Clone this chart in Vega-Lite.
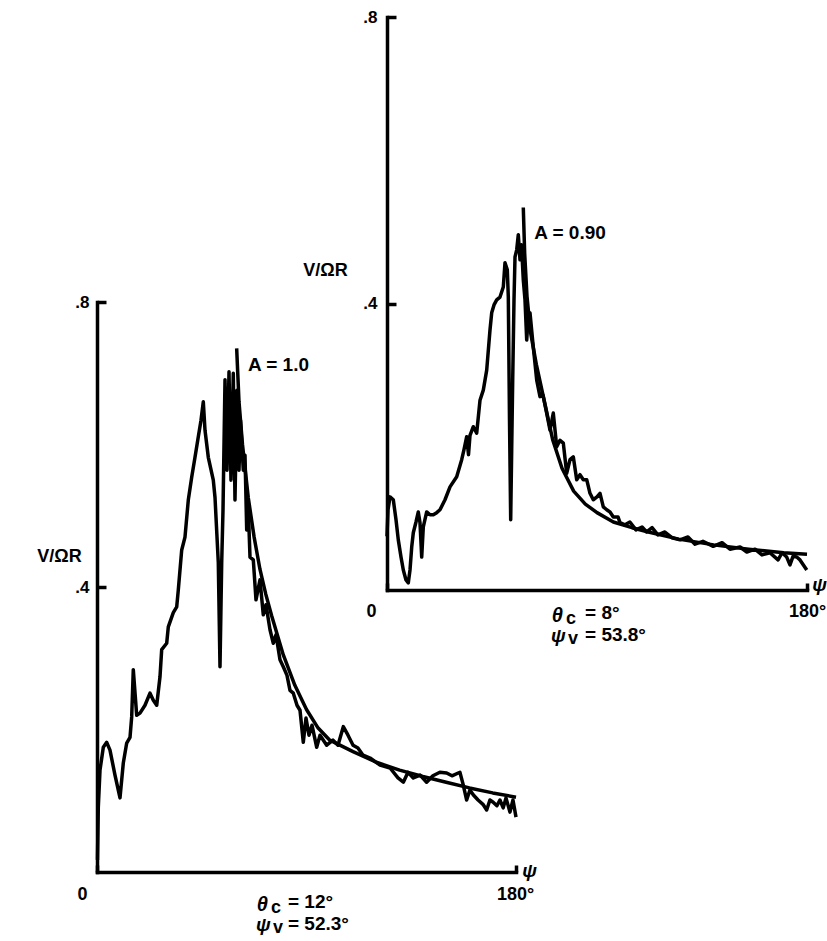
{
  "$schema": "https://vega.github.io/schema/vega-lite/v6.json",
  "width": 827,
  "height": 941,
  "autosize": {"type": "none"},
  "padding": 0,
  "background": "white",
  "config": {
    "view": {"stroke": null},
    "axis": {
      "grid": false,
      "domainColor": "black",
      "domainWidth": 3.5,
      "domainCap": "square",
      "tickColor": "black",
      "tickWidth": 3.5,
      "labelColor": "black",
      "titleColor": "black",
      "labelFont": "Liberation Sans",
      "titleFont": "Liberation Sans",
      "labelFontWeight": "bold",
      "titleFontWeight": "bold",
      "labelFlush": false,
      "labelOverlap": false,
      "labelBound": false
    },
    "text": {"font": "Liberation Sans", "fontWeight": "bold", "fill": "black"}
  },
  "datasets": {
    "left_measured": [
      {"psi":0.2,"v":0.017},{"psi":0.56,"v":0.091},{"psi":1.29,"v":0.143},{"psi":2.71,"v":0.175},{"psi":4.17,"v":0.182},{"psi":5.58,"v":0.171},{"psi":7.73,"v":0.136},{"psi":9.88,"v":0.104},{"psi":11.3,"v":0.153},{"psi":12.76,"v":0.181},{"psi":14.18,"v":0.189},{"psi":14.91,"v":0.218},{"psi":15.59,"v":0.284},{"psi":17.05,"v":0.22},{"psi":18.47,"v":0.223},{"psi":20.62,"v":0.234},{"psi":22.77,"v":0.251},{"psi":24.19,"v":0.241},{"psi":25.65,"v":0.234},{"psi":27.06,"v":0.274},{"psi":27.79,"v":0.312},{"psi":29.94,"v":0.321},{"psi":30.63,"v":0.344},{"psi":32.78,"v":0.364},{"psi":34.24,"v":0.372},{"psi":34.93,"v":0.396},{"psi":36.39,"v":0.452},{"psi":37.8,"v":0.47},{"psi":39.22,"v":0.522},{"psi":40.68,"v":0.554},{"psi":42.1,"v":0.582},{"psi":43.52,"v":0.611},{"psi":44.68,"v":0.634},{"psi":45.67,"v":0.66},{"psi":46.4,"v":0.62},{"psi":47.81,"v":0.582},{"psi":49.96,"v":0.55},{"psi":50.69,"v":0.526},{"psi":52.11,"v":0.434},{"psi":52.84,"v":0.288},{"psi":53.57,"v":0.434},{"psi":54.13,"v":0.508},{"psi":54.99,"v":0.691},{"psi":55.85,"v":0.564},{"psi":56.71,"v":0.702},{"psi":57.56,"v":0.55},{"psi":58.55,"v":0.7},{"psi":59.28,"v":0.522},{"psi":60.14,"v":0.676},{"psi":61.0,"v":0.564},{"psi":61.65,"v":0.634},{"psi":62.85,"v":0.564},{"psi":63.58,"v":0.585},{"psi":64.31,"v":0.48},{"psi":64.87,"v":0.522},{"psi":65.73,"v":0.442},{"psi":67.15,"v":0.438},{"psi":68.3,"v":0.382},{"psi":70.02,"v":0.41},{"psi":71.44,"v":0.361},{"psi":72.6,"v":0.375},{"psi":74.32,"v":0.34},{"psi":75.74,"v":0.321},{"psi":76.9,"v":0.333},{"psi":78.61,"v":0.298},{"psi":80.03,"v":0.288},{"psi":81.62,"v":0.276},{"psi":82.91,"v":0.255},{"psi":84.33,"v":0.251},{"psi":85.92,"v":0.234},{"psi":87.21,"v":0.227},{"psi":88.62,"v":0.182},{"psi":89.78,"v":0.216},{"psi":91.07,"v":0.192},{"psi":92.36,"v":0.206},{"psi":94.38,"v":0.175},{"psi":95.8,"v":0.192},{"psi":98.68,"v":0.178},{"psi":101.38,"v":0.185},{"psi":103.53,"v":0.178},{"psi":105.81,"v":0.204},{"psi":107.83,"v":0.192},{"psi":110.0,"v":0.178},{"psi":112.1,"v":0.174},{"psi":114.3,"v":0.164},{"psi":117.3,"v":0.16},{"psi":121.6,"v":0.15},{"psi":125.9,"v":0.146},{"psi":129.3,"v":0.132},{"psi":131.6,"v":0.126},{"psi":133.6,"v":0.14},{"psi":135.9,"v":0.132},{"psi":138.8,"v":0.136},{"psi":141.6,"v":0.126},{"psi":144.3,"v":0.135},{"psi":147.3,"v":0.14},{"psi":150.2,"v":0.139},{"psi":152.5,"v":0.135},{"psi":155.9,"v":0.14},{"psi":157.2,"v":0.124},{"psi":158.8,"v":0.101},{"psi":160.2,"v":0.115},{"psi":161.7,"v":0.108},{"psi":163.7,"v":0.101},{"psi":165.8,"v":0.095},{"psi":167.4,"v":0.087},{"psi":168.8,"v":0.101},{"psi":170.2,"v":0.098},{"psi":171.8,"v":0.093},{"psi":173.1,"v":0.101},{"psi":174.5,"v":0.09},{"psi":175.7,"v":0.104},{"psi":177.4,"v":0.084},{"psi":178.7,"v":0.101},{"psi":180,"v":0.077}
    ],
    "left_theory": [
      {"psi":60.0,"v":0.735},{"psi":61.0,"v":0.66},{"psi":62.5,"v":0.6},{"psi":65,"v":0.525},{"psi":67.5,"v":0.47},{"psi":70,"v":0.425},{"psi":72.5,"v":0.39},{"psi":75,"v":0.36},{"psi":80,"v":0.305},{"psi":85,"v":0.262},{"psi":90,"v":0.228},{"psi":95,"v":0.202},{"psi":100,"v":0.185},{"psi":110,"v":0.169},{"psi":120,"v":0.154},{"psi":130,"v":0.143},{"psi":140,"v":0.134},{"psi":150,"v":0.126},{"psi":160,"v":0.118},{"psi":170,"v":0.111},{"psi":180,"v":0.105}
    ],
    "right_measured": [
      {"psi":0,"v":0.075},{"psi":0.43,"v":0.112},{"psi":1.29,"v":0.13},{"psi":2.7,"v":0.126},{"psi":3.86,"v":0.098},{"psi":4.84,"v":0.07},{"psi":6.0,"v":0.046},{"psi":6.99,"v":0.028},{"psi":8.14,"v":0.014},{"psi":9.13,"v":0.01},{"psi":9.86,"v":0.028},{"psi":10.59,"v":0.06},{"psi":11.27,"v":0.08},{"psi":12.43,"v":0.095},{"psi":13.41,"v":0.109},{"psi":14.14,"v":0.094},{"psi":14.87,"v":0.046},{"psi":15.56,"v":0.088},{"psi":17.01,"v":0.109},{"psi":18.43,"v":0.105},{"psi":19.84,"v":0.105},{"psi":21.3,"v":0.108},{"psi":22.71,"v":0.112},{"psi":24.86,"v":0.126},{"psi":27.0,"v":0.144},{"psi":29.87,"v":0.158},{"psi":32.01,"v":0.182},{"psi":33.0,"v":0.196},{"psi":34.16,"v":0.214},{"psi":34.93,"v":0.189},{"psi":35.57,"v":0.216},{"psi":36.99,"v":0.228},{"psi":38.44,"v":0.219},{"psi":39.86,"v":0.265},{"psi":41.27,"v":0.279},{"psi":42.73,"v":0.307},{"psi":44.14,"v":0.363},{"psi":44.87,"v":0.387},{"psi":45.86,"v":0.398},{"psi":47.01,"v":0.405},{"psi":48.43,"v":0.409},{"psi":49.84,"v":0.423},{"psi":50.57,"v":0.457},{"psi":51.56,"v":0.447},{"psi":51.99,"v":0.409},{"psi":52.5,"v":0.237},{"psi":53.01,"v":0.098},{"psi":53.44,"v":0.196},{"psi":53.87,"v":0.293},{"psi":54.43,"v":0.405},{"psi":54.86,"v":0.465},{"psi":55.59,"v":0.475},{"psi":56.27,"v":0.496},{"psi":57.0,"v":0.461},{"psi":57.64,"v":0.482},{"psi":58.41,"v":0.433},{"psi":59.14,"v":0.405},{"psi":59.87,"v":0.349},{"psi":60.43,"v":0.377},{"psi":61.29,"v":0.387},{"psi":62.7,"v":0.339},{"psi":64.16,"v":0.293},{"psi":65.57,"v":0.27},{"psi":66.86,"v":0.272},{"psi":68.44,"v":0.247},{"psi":69.86,"v":0.223},{"psi":71.27,"v":0.247},{"psi":72.73,"v":0.2},{"psi":74.14,"v":0.209},{"psi":75.56,"v":0.205},{"psi":77.01,"v":0.163},{"psi":78.43,"v":0.182},{"psi":79.84,"v":0.186},{"psi":81.3,"v":0.154},{"psi":82.71,"v":0.161},{"psi":84.13,"v":0.154},{"psi":85.59,"v":0.154},{"psi":87.0,"v":0.135},{"psi":88.41,"v":0.126},{"psi":90.0,"v":0.13},{"psi":91.29,"v":0.135},{"psi":92.7,"v":0.116},{"psi":94.16,"v":0.112},{"psi":95.57,"v":0.109},{"psi":96.99,"v":0.102},{"psi":99.0,"v":0.102},{"psi":99.86,"v":0.094},{"psi":102.0,"v":0.091},{"psi":104.1,"v":0.095},{"psi":106.7,"v":0.084},{"psi":109.3,"v":0.088},{"psi":111.3,"v":0.081},{"psi":113.6,"v":0.087},{"psi":116.1,"v":0.077},{"psi":119.1,"v":0.081},{"psi":122.1,"v":0.073},{"psi":125.6,"v":0.07},{"psi":129.0,"v":0.074},{"psi":132.0,"v":0.064},{"psi":135.4,"v":0.068},{"psi":139.8,"v":0.061},{"psi":143.6,"v":0.066},{"psi":147.0,"v":0.057},{"psi":151.3,"v":0.06},{"psi":154.2,"v":0.053},{"psi":157.7,"v":0.057},{"psi":160.7,"v":0.049},{"psi":164.1,"v":0.052},{"psi":167.6,"v":0.042},{"psi":169.3,"v":0.052},{"psi":171.3,"v":0.046},{"psi":172.7,"v":0.035},{"psi":174.0,"v":0.047},{"psi":175.6,"v":0.046},{"psi":177.0,"v":0.042},{"psi":179.9,"v":0.028}
    ],
    "right_theory": [
      {"psi":58.41,"v":0.534},{"psi":59,"v":0.47},{"psi":60,"v":0.41},{"psi":61.5,"v":0.36},{"psi":64,"v":0.315},{"psi":67,"v":0.27},{"psi":71,"v":0.21},{"psi":75,"v":0.17},{"psi":80,"v":0.138},{"psi":85,"v":0.12},{"psi":90,"v":0.108},{"psi":97,"v":0.095},{"psi":105,"v":0.087},{"psi":112,"v":0.081},{"psi":125,"v":0.071},{"psi":140,"v":0.063},{"psi":155,"v":0.057},{"psi":170,"v":0.052},{"psi":180,"v":0.05}
    ],
    "one": [{}]
  },
  "layer": [
    {
      "layer": [
        {
          "data": {"name": "left_measured"},
          "mark": {"type": "line", "stroke": "black", "strokeWidth": 3.5, "strokeJoin": "round"},
          "encoding": {
            "x": {
              "field": "psi", "type": "quantitative",
              "scale": {"domain": [0, 180], "range": [97, 516], "nice": false, "zero": false},
              "axis": {
                "orient": "bottom", "offset": -69, "values": [0, 180],
                "labelExpr": "datum.value == 180 ? '180°' : '0'",
                "tickSize": -7, "labelPadding": 20, "labelFontSize": 18,
                "labelOffset": {"condition": {"test": "datum.value == 0", "value": -15}, "value": -1},
                "title": "ψ", "titleX": 529, "titleY": -2, "titleAlign": "center", "titleBaseline": "middle",
                "titleFontSize": 19, "titleFontStyle": "italic"
              }
            },
            "y": {
              "field": "v", "type": "quantitative",
              "scale": {"domain": [0, 0.8], "range": [872, 302], "nice": false, "zero": false},
              "axis": {
                "orient": "left", "offset": -97, "values": [0.4, 0.8],
                "labelExpr": "datum.value > 0.6 ? '.8' : '.4'",
                "tickSize": -9, "labelPadding": 17, "labelFontSize": 17,
                "title": "V/ΩR", "titleAngle": 0, "titleX": -38, "titleY": 556,
                "titleAlign": "center", "titleBaseline": "middle", "titleFontSize": 18
              }
            }
          }
        },
        {
          "data": {"name": "left_theory"},
          "mark": {"type": "line", "stroke": "black", "strokeWidth": 3.5, "strokeJoin": "round"},
          "encoding": {
            "x": {"field": "psi", "type": "quantitative"},
            "y": {"field": "v", "type": "quantitative"}
          }
        },
        {
          "data": {"name": "one"},
          "mark": {"type": "text", "fontSize": 19, "align": "center", "baseline": "middle", "text": "A = 1.0"},
          "encoding": {"x": {"datum": 77.97, "type": "quantitative"}, "y": {"datum": 0.7116, "type": "quantitative"}}
        },
        {
          "data": {"name": "one"},
          "mark": {"type": "text", "fontSize": 20, "fontStyle": "italic", "align": "left", "baseline": "alphabetic", "text": "θ"},
          "encoding": {"x": {"datum": 68.6, "type": "quantitative"}, "y": {"datum": -0.0547, "type": "quantitative"}}
        },
        {
          "data": {"name": "one"},
          "mark": {"type": "text", "fontSize": 18, "align": "left", "baseline": "alphabetic", "text": "c"},
          "encoding": {"x": {"datum": 74.75, "type": "quantitative"}, "y": {"datum": -0.0575, "type": "quantitative"}}
        },
        {
          "data": {"name": "one"},
          "mark": {"type": "text", "fontSize": 19, "align": "left", "baseline": "alphabetic", "text": "= 12°"},
          "encoding": {"x": {"datum": 82.05, "type": "quantitative"}, "y": {"datum": -0.0512, "type": "quantitative"}}
        },
        {
          "data": {"name": "one"},
          "mark": {"type": "text", "fontSize": 19, "fontStyle": "italic", "align": "left", "baseline": "middle", "text": "ψ"},
          "encoding": {"x": {"datum": 68.3, "type": "quantitative"}, "y": {"datum": -0.0744, "type": "quantitative"}}
        },
        {
          "data": {"name": "one"},
          "mark": {"type": "text", "fontSize": 18, "align": "left", "baseline": "alphabetic", "text": "v"},
          "encoding": {"x": {"datum": 75.6, "type": "quantitative"}, "y": {"datum": -0.0856, "type": "quantitative"}}
        },
        {
          "data": {"name": "one"},
          "mark": {"type": "text", "fontSize": 19, "align": "left", "baseline": "alphabetic", "text": "= 52.3°"},
          "encoding": {"x": {"datum": 82.05, "type": "quantitative"}, "y": {"datum": -0.0814, "type": "quantitative"}}
        }
      ]
    },
    {
      "layer": [
        {
          "data": {"name": "right_measured"},
          "mark": {"type": "line", "stroke": "black", "strokeWidth": 3.5, "strokeJoin": "round"},
          "encoding": {
            "x": {
              "field": "psi", "type": "quantitative",
              "scale": {"domain": [0, 180], "range": [387, 807], "nice": false, "zero": false},
              "axis": {
                "orient": "bottom", "offset": -351, "values": [0, 180],
                "labelExpr": "datum.value == 180 ? '180°' : '0'",
                "tickSize": -7, "labelPadding": 19, "labelFontSize": 18,
                "labelOffset": {"condition": {"test": "datum.value == 0", "value": -16}, "value": 0},
                "title": "ψ", "titleX": 819, "titleY": -6, "titleAlign": "center", "titleBaseline": "middle",
                "titleFontSize": 19, "titleFontStyle": "italic"
              }
            },
            "y": {
              "field": "v", "type": "quantitative",
              "scale": {"domain": [0, 0.8], "range": [590, 17], "nice": false, "zero": false},
              "axis": {
                "orient": "left", "offset": -387, "values": [0.4, 0.8],
                "labelExpr": "datum.value > 0.6 ? '.8' : '.4'",
                "tickSize": -9, "labelPadding": 19, "labelFontSize": 17,
                "title": "V/ΩR", "titleAngle": 0, "titleX": -62, "titleY": 270,
                "titleAlign": "center", "titleBaseline": "middle", "titleFontSize": 18
              }
            }
          }
        },
        {
          "data": {"name": "right_theory"},
          "mark": {"type": "line", "stroke": "black", "strokeWidth": 3.5, "strokeJoin": "round"},
          "encoding": {
            "x": {"field": "psi", "type": "quantitative"},
            "y": {"field": "v", "type": "quantitative"}
          }
        },
        {
          "data": {"name": "one"},
          "mark": {"type": "text", "fontSize": 19, "align": "center", "baseline": "middle", "text": "A = 0.90"},
          "encoding": {"x": {"datum": 78.43, "type": "quantitative"}, "y": {"datum": 0.4979, "type": "quantitative"}}
        },
        {
          "data": {"name": "one"},
          "mark": {"type": "text", "fontSize": 20, "fontStyle": "italic", "align": "left", "baseline": "alphabetic", "text": "θ"},
          "encoding": {"x": {"datum": 70.59, "type": "quantitative"}, "y": {"datum": -0.044, "type": "quantitative"}}
        },
        {
          "data": {"name": "one"},
          "mark": {"type": "text", "fontSize": 18, "align": "left", "baseline": "alphabetic", "text": "c"},
          "encoding": {"x": {"datum": 76.71, "type": "quantitative"}, "y": {"datum": -0.0468, "type": "quantitative"}}
        },
        {
          "data": {"name": "one"},
          "mark": {"type": "text", "fontSize": 19, "align": "left", "baseline": "alphabetic", "text": "= 8°"},
          "encoding": {"x": {"datum": 84.86, "type": "quantitative"}, "y": {"datum": -0.0405, "type": "quantitative"}}
        },
        {
          "data": {"name": "one"},
          "mark": {"type": "text", "fontSize": 19, "fontStyle": "italic", "align": "left", "baseline": "middle", "text": "ψ"},
          "encoding": {"x": {"datum": 70.3, "type": "quantitative"}, "y": {"datum": -0.0642, "type": "quantitative"}}
        },
        {
          "data": {"name": "one"},
          "mark": {"type": "text", "fontSize": 18, "align": "left", "baseline": "alphabetic", "text": "v"},
          "encoding": {"x": {"datum": 77.57, "type": "quantitative"}, "y": {"datum": -0.0754, "type": "quantitative"}}
        },
        {
          "data": {"name": "one"},
          "mark": {"type": "text", "fontSize": 19, "align": "left", "baseline": "alphabetic", "text": "= 53.8°"},
          "encoding": {"x": {"datum": 84.86, "type": "quantitative"}, "y": {"datum": -0.0712, "type": "quantitative"}}
        }
      ]
    }
  ],
  "resolve": {
    "scale": {"x": "independent", "y": "independent"},
    "axis": {"x": "independent", "y": "independent"}
  }
}
